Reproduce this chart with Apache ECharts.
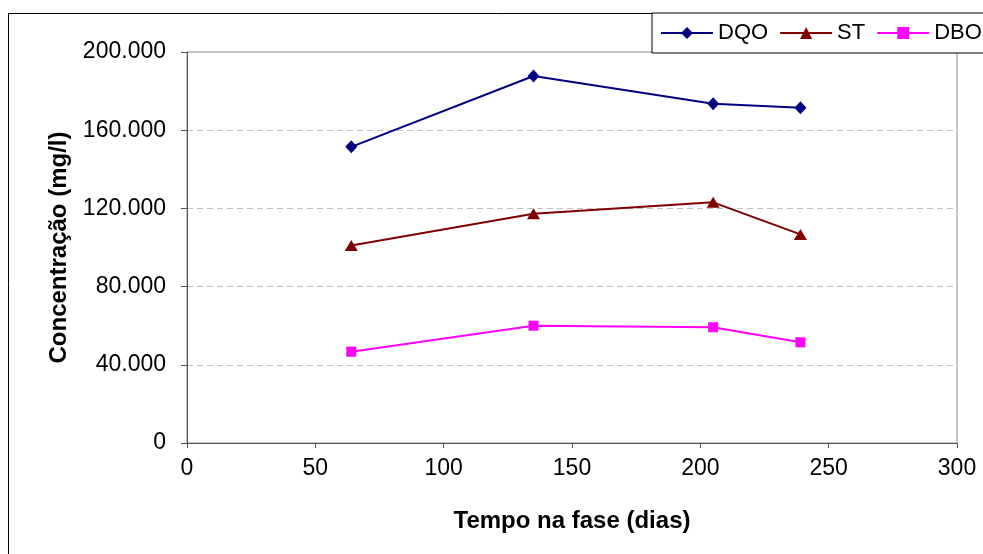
<!DOCTYPE html>
<html>
<head>
<meta charset="utf-8">
<script src="https://cdn.jsdelivr.net/npm/echarts@6/dist/echarts.min.js"></script>
<style>
  html, body { margin: 0; padding: 0; background: #fff; }
  #chart { width: 983px; height: 554px; }
</style>
</head>
<body>
<div id="chart"></div>
<script>
// Days in the phase (x) and concentrations (mg/l)
const dias = [64, 135, 205, 239];
const dqo = [151500, 187700, 173500, 171500];
const st = [101000, 117300, 123100, 106700];
const dbo = [46700, 60000, 59200, 51500];

const xTicks = [0, 50, 100, 150, 200, 250, 300];
const yTicks = [0, 40000, 80000, 120000, 160000, 200000];

const pair = (xs, ys) => xs.map((x, i) => [x, ys[i]]);
const fmtThousands = v => v === 0 ? '0' : String(v).replace(/\B(?=(\d{3})+(?!\d))/g, '.');

const font = '"Liberation Sans", Arial, sans-serif';
const chart = echarts.init(document.getElementById('chart'), null, { renderer: 'canvas' });

chart.setOption({
  animation: false,
  backgroundColor: '#fff',
  graphic: [{
    type: 'rect',
    shape: { x: 8.5, y: 13.5, width: 1000, height: 600 },
    style: { fill: 'none', stroke: '#000', lineWidth: 1 },
    silent: true, z: -1
  }],
  legend: {
    left: 652, top: 13, width: 420,
    padding: [9, 40, 9, 8],
    backgroundColor: '#fff',
    borderColor: '#000',
    borderWidth: 1,
    borderRadius: 0,
    itemWidth: 52,
    itemHeight: 15,
    itemGap: 11,
    textStyle: { fontFamily: font, fontSize: 22, color: '#000' },
    data: ['DQO', 'ST', 'DBO']
  },
  grid: {
    left: 187, right: 26, top: 52, bottom: 111,
    show: true, borderColor: '#8c8c8c', borderWidth: 1
  },
  xAxis: {
    type: 'value', min: 0, max: 300, interval: 50,
    name: 'Tempo na fase (dias)', nameLocation: 'middle', nameGap: 66,
    nameTextStyle: { fontFamily: font, fontSize: 24, fontWeight: 'bold', color: '#000' },
    axisLine: { show: true, lineStyle: { color: '#555', width: 1 } },
    axisTick: { show: true, inside: false, length: 5, lineStyle: { color: '#555' } },
    axisLabel: { fontFamily: font, fontSize: 23, color: '#000', margin: 14,
      formatter: v => xTicks.includes(v) ? String(v) : '' },
    splitLine: { show: false }
  },
  yAxis: {
    type: 'value', min: 0, max: 200000, interval: 40000,
    name: 'Concentração (mg/l)', nameLocation: 'middle', nameGap: 116, nameRotate: 90,
    nameTextStyle: { fontFamily: font, fontSize: 24, fontWeight: 'bold', color: '#000' },
    axisLine: { show: true, lineStyle: { color: '#555', width: 1 } },
    axisTick: { show: true, inside: false, length: 6, lineStyle: { color: '#555' } },
    axisLabel: { fontFamily: font, fontSize: 23, color: '#000', margin: 21,
      formatter: v => yTicks.includes(v) ? fmtThousands(v) : '' },
    splitLine: { show: true, lineStyle: { color: '#c0c0c0', type: [6, 4], width: 1 } }
  },
  series: [
    {
      name: 'DQO', type: 'line', data: pair(dias, dqo),
      symbol: 'diamond', symbolSize: [12, 13],
      lineStyle: { color: '#000080', width: 2 },
      itemStyle: { color: '#000080' }
    },
    {
      name: 'ST', type: 'line', data: pair(dias, st),
      symbol: 'triangle', symbolSize: [13, 11],
      lineStyle: { color: '#800000', width: 2 },
      itemStyle: { color: '#800000' }
    },
    {
      name: 'DBO', type: 'line', data: pair(dias, dbo),
      symbol: 'rect', symbolSize: 10,
      lineStyle: { color: '#ff00ff', width: 2 },
      itemStyle: { color: '#ff00ff' }
    }
  ]
});
</script>
</body>
</html>
